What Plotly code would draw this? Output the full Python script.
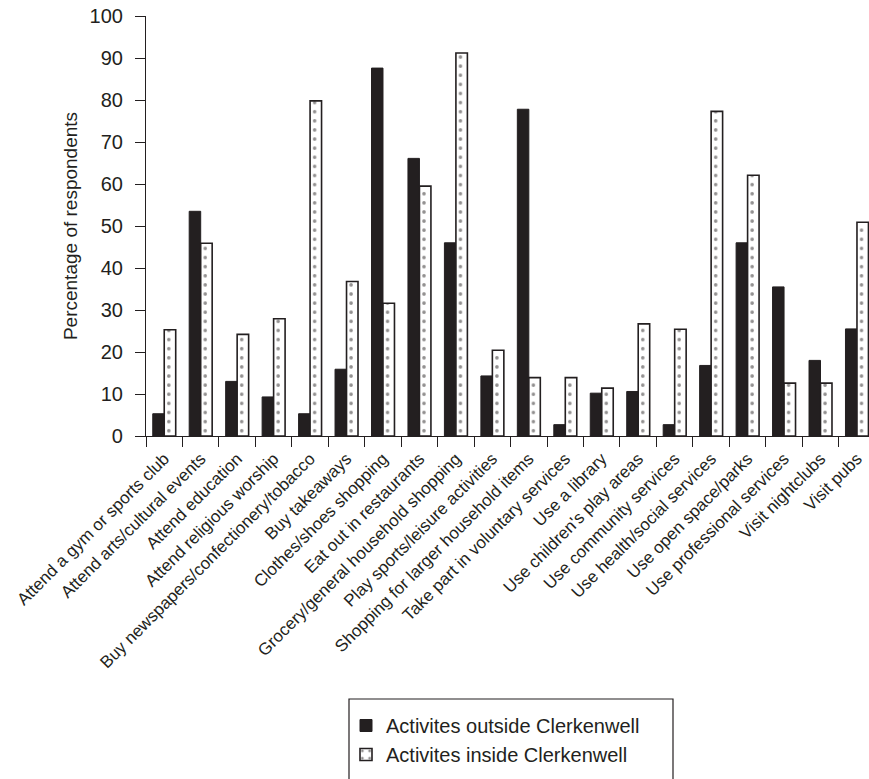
import plotly.graph_objects as go

categories = [
    "Attend a gym or sports club",
    "Attend arts/cultural events",
    "Attend education",
    "Attend religious worship",
    "Buy newspapers/confectionery/tobacco",
    "Buy takeaways",
    "Clothes/shoes shopping",
    "Eat out in restaurants",
    "Grocery/general household shopping",
    "Play sports/leisure activities",
    "Shopping for larger household items",
    "Take part in voluntary services",
    "Use a library",
    "Use children's play areas",
    "Use community services",
    "Use health/social services",
    "Use open space/parks",
    "Use professional services",
    "Visit nightclubs",
    "Visit pubs",
]
outside = [5.3, 53.5, 13.0, 9.3, 5.3, 15.9, 87.6, 66.1, 46.0, 14.3,
           77.8, 2.7, 10.2, 10.6, 2.7, 16.8, 46.0, 35.5, 18.0, 25.5]
inside = [25.3, 45.9, 24.2, 27.9, 79.8, 36.8, 31.6, 59.5, 91.2, 20.4,
          13.9, 13.9, 11.4, 26.7, 25.4, 77.3, 62.1, 12.6, 12.6, 50.9]
y_ticks = list(range(0, 101, 10))

W, H = 869, 779
ML, MR, MT, MB = 146, 0, 16, 343
INK = "#231f20"
FONT = "Liberation Sans, Arial, Helvetica, sans-serif"

x_range = [-0.5, 19.33]
plot_w = W - ML - MR
cat_w = plot_w / (x_range[1] - x_range[0])
pat_size = cat_w / 4

fig = go.Figure()
fig.add_trace(go.Bar(
    x=categories, y=outside, name="Activites outside Clerkenwell",
    marker=dict(color=INK, line=dict(color=INK, width=1)),
))
fig.add_trace(go.Bar(
    x=categories, y=inside, name="Activites inside Clerkenwell",
    marker=dict(color="white", line=dict(color=INK, width=1.6),
                pattern=dict(shape=".", size=pat_size, solidity=0.12,
                             fgcolor=INK, bgcolor="white", fillmode="overlay")),
))

def px_x(px):
    return (px - ML) / plot_w

def px_y(py):
    return (H - MB - py) / (H - MB - MT)

fig.update_layout(
    width=W, height=H,
    margin=dict(l=ML, r=MR, t=MT, b=MB, pad=0),
    paper_bgcolor="white", plot_bgcolor="white",
    barmode="group", bargap=0.37, bargroupgap=0,
    font=dict(family=FONT, color=INK, size=18),
    showlegend=True,
    legend=dict(x=px_x(346), y=px_y(706), xanchor="left", yanchor="top",
                bgcolor="rgba(0,0,0,0)", borderwidth=0,
                font=dict(size=20, color=INK), tracegroupgap=0),
    shapes=[dict(type="rect", xref="paper", yref="paper",
                 x0=px_x(349), x1=px_x(673), y0=px_y(699), y1=px_y(820),
                 line=dict(color=INK, width=1.2), fillcolor="rgba(0,0,0,0)",
                 layer="below")],
)
fig.update_xaxes(
    range=x_range, showline=True, linecolor=INK, linewidth=1.2,
    ticks="outside", tickson="boundaries", ticklen=10, tickcolor=INK, tickwidth=1.2,
    tickangle=-45, tickfont=dict(size=17, color=INK), showgrid=False,
    automargin=False, zeroline=False, ticklabelstandoff=5,
)
fig.update_yaxes(
    range=[0, 100], tickvals=y_ticks, showline=True, linecolor=INK, linewidth=1.2,
    ticks="outside", ticklen=10, tickcolor=INK, tickwidth=1.2,
    tickfont=dict(size=20, color=INK), showgrid=False, zeroline=False,
    automargin=False, ticklabelstandoff=8,
    title=dict(text="Percentage of respondents", font=dict(size=19, color=INK), standoff=6),
)

fig.write_html(
    "out.html",
    config={"displayModeBar": False},
    post_script="document.body.style.margin='0';document.body.style.padding='0';document.body.style.overflow='hidden';",
)
